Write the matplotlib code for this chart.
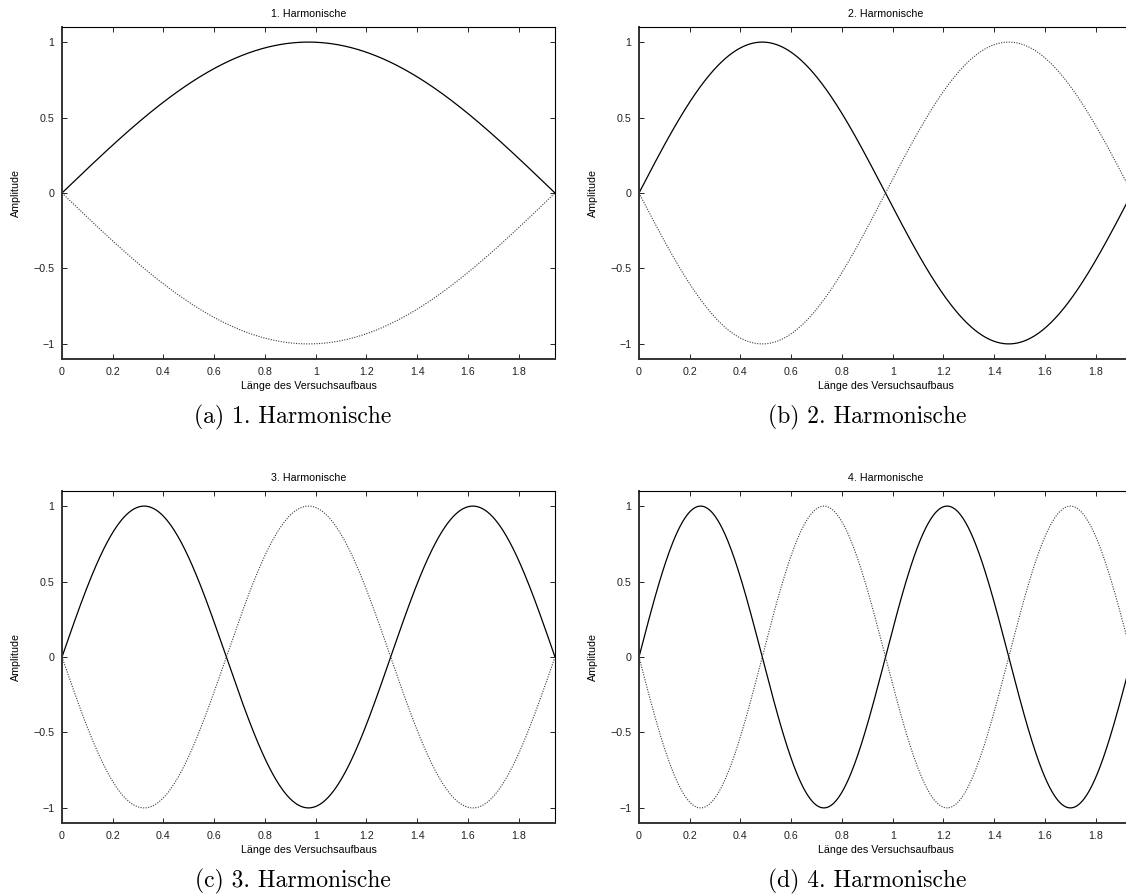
import numpy as np
import matplotlib
matplotlib.use("Agg")
import matplotlib.pyplot as plt

plt.rcParams['font.family'] = ['Liberation Sans', 'DejaVu Sans']

# data
laenge = 1.943          # Länge des Versuchsaufbaus
harmonische = [1, 2, 3, 4]
titel = ["1. Harmonische", "2. Harmonische", "3. Harmonische", "4. Harmonische"]
unterschriften = ["(a) 1. Harmonische", "(b) 2. Harmonische",
                  "(c) 3. Harmonische", "(d) 4. Harmonische"]
xticks = [0, 0.2, 0.4, 0.6, 0.8, 1.0, 1.2, 1.4, 1.6, 1.8]
xticklabels = ["0", "0.2", "0.4", "0.6", "0.8", "1", "1.2", "1.4", "1.6", "1.8"]
yticks = [-1, -0.5, 0, 0.5, 1]
yticklabels = ["\u22121", "\u22120.5", "0", "0.5", "1"]

W, H = 1126, 894
fig = plt.figure(figsize=(W / 100, H / 100), dpi=100)

# axes boxes in pixels: left, top, width, height
boxes = [(62, 27), (639, 27), (62, 491), (639, 491)]
aw, ah = 493, 332
caption_pos = [(293, 417), (867, 417), (293, 881), (867, 881)]
fs = 7.7

for i, n in enumerate(harmonische):
    lx, ty = boxes[i]
    ax = fig.add_axes([lx / W, 1 - (ty + ah) / H, aw / W, ah / H])
    x = np.linspace(0, laenge, 600)
    y = np.sin(n * np.pi * x / laenge)
    ax.plot(x, y, color='black', lw=0.9)
    ax.plot(x, -y, color='#3a3a3a', lw=0.8, linestyle=(0, (1, 1.3)))
    ax.set_xlim(0, laenge)
    ax.set_ylim(-1.1, 1.1)
    ax.set_xticks(xticks)
    ax.set_xticklabels(xticklabels)
    ax.set_yticks(yticks)
    ax.set_yticklabels(yticklabels)
    ax.tick_params(direction='in', length=3.6, width=0.7, pad=5.5,
                   labelsize=fs, top=True, right=True, colors='#222222')
    for s in ['left', 'bottom']:
        ax.spines[s].set_linewidth(1.4)
        ax.spines[s].set_color('#333333')
    for s in ['top', 'right']:
        ax.spines[s].set_linewidth(0.8)
        ax.spines[s].set_color('black')
    ax.set_title(titel[i], fontsize=fs, pad=7)
    ax.set_xlabel("Länge des Versuchsaufbaus", fontsize=fs)
    ax.set_ylabel("Amplitude", fontsize=fs)
    ax.xaxis.set_label_coords(0.5, -0.066)
    ax.yaxis.set_label_coords(-0.083, 0.5)
    cx, cy = caption_pos[i]
    fig.text(cx / W, 1 - cy / H, unterschriften[i], fontfamily='cmr10',
             fontsize=17, ha='center', va='center')

fig.savefig("out.png", dpi=100)
